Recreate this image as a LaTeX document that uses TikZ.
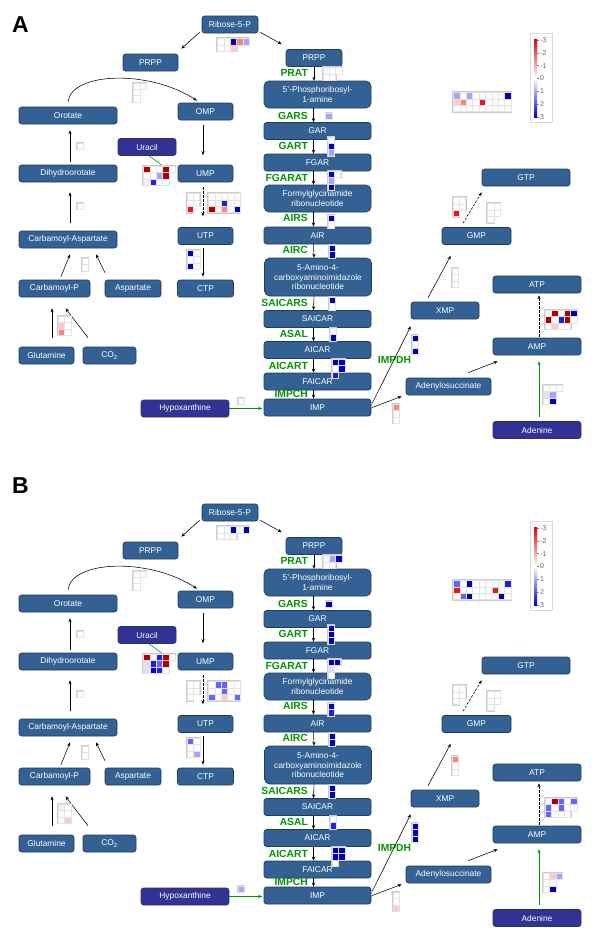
\documentclass[tikz,border=0pt]{standalone}
\usepackage{fontspec}
\setmainfont{Liberation Sans}
\usetikzlibrary{arrows.meta}

\definecolor{metblue}{RGB}{51,97,147}
\definecolor{metline}{RGB}{35,58,88}
\definecolor{extpurple}{RGB}{50,50,150}
\definecolor{enzgreen}{RGB}{0,150,0}
\definecolor{legred}{RGB}{225,0,0}
\definecolor{legblue}{RGB}{0,0,210}
%heat map colours
\definecolor{w}{RGB}{255,255,255}
\definecolor{dr}{RGB}{175,0,0}
\definecolor{rd}{RGB}{240,20,20}
\definecolor{sa}{RGB}{255,130,130}
\definecolor{pk}{RGB}{255,200,200}
\definecolor{vp}{RGB}{255,236,236}
\definecolor{db}{RGB}{0,0,180}
\definecolor{bl}{RGB}{30,30,240}
\definecolor{mb}{RGB}{100,100,255}
\definecolor{lb}{RGB}{165,165,255}
\definecolor{vb}{RGB}{225,225,255}

%heat map: x, y of top left corner, rows of colours
\newcommand\hm[3]{%
  \foreach \row [count=\ri] in {#3}{%
    \foreach \hc [count=\ci] in \row{%
      \fill[cellrim] ({#1+(\ci-1)*6.4-1},{#2+(\ri-1)*6.4-1}) rectangle +(8.4,8.4);}}%
  \foreach \row [count=\ri] in {#3}{%
    \foreach \hc [count=\ci] in \row{%
      \filldraw[cell, fill=\hc] ({#1+(\ci-1)*6.4},{#2+(\ri-1)*6.4}) rectangle +(6.4,6.4);}}%
}

\newcommand\pathway{%
%pyrimidines
  \node[met, minimum width=56pt] (r5p) at (230,24.5) {Ribose-5-P};
  \node[met, minimum width=55pt] (prppL) at (150.5,62.5) {PRPP};
  \node[met, minimum width=56pt] (prppR) at (314,58) {PRPP};
  \node[met, minimum width=98pt] (oro) at (68,115.5) {Orotate};
  \node[met, minimum width=55pt] (omp) at (205.5,111.5) {OMP};
  \node[ext, minimum width=58pt] (ura) at (147,147) {Uracil};
  \node[met, minimum width=98pt] (dho) at (68,173.5) {Dihydroorotate};
  \node[met, minimum width=55pt] (ump) at (205.5,173.5) {UMP};
  \node[met, minimum width=98pt] (casp) at (68,239.5) {Carbamoyl-Aspartate};
  \node[met, minimum width=55pt] (utp) at (205.5,236) {UTP};
  \node[met, minimum width=71pt] (cp) at (54.5,288.5) {Carbamoyl-P};
  \node[met, minimum width=56pt] (asp) at (133,288.5) {Aspartate};
  \node[met, minimum width=56pt] (ctp) at (205.5,288.5) {CTP};
  \node[met, minimum width=55pt] (gln) at (46.5,355.5) {Glutamine};
  \node[met, minimum width=53pt] (co2) at (109.5,355.5) {CO\textsubscript{2}};
  \node[ext, minimum width=88pt] (hyp) at (185,408.5) {Hypoxanthine};
%purine column
  \node[col, tall, minimum height=27pt] (pra) at (317.5,94.5) {5'-Phosphoribosyl-\\1-amine};
  \node[col] (gar) at (317.5,131) {GAR};
  \node[col] (fgar) at (317.5,162.5) {FGAR};
  \node[col, tall, minimum height=27pt] (fgam) at (317.5,198.5) {Formylglycinamide\\ribonucleotide};
  \node[col] (air) at (317.5,235.5) {AIR};
  \node[col, tall, minimum height=38pt] (cair) at (318,277) {5-Amino-4-\\carboxyaminoimidazole\\ribonucleotide};
  \node[col] (saicar) at (317.5,319) {SAICAR};
  \node[col] (aicar) at (317.5,350) {AICAR};
  \node[col] (faicar) at (317.5,381.5) {FAICAR};
  \node[col] (imp) at (317.5,407.5) {IMP};
%purines right
  \node[met, minimum width=68pt] (xmp) at (445,310.5) {XMP};
  \node[met, minimum width=69pt] (gmp) at (476.5,236) {GMP};
  \node[met, minimum width=88pt] (gtp) at (526,177.5) {GTP};
  \node[met, minimum width=88pt] (atp) at (537,284.5) {ATP};
  \node[met, minimum width=88pt] (amp) at (537,346.5) {AMP};
  \node[met, minimum width=85pt] (ados) at (448.5,386.5) {Adenylosuccinate};
  \node[ext, minimum width=88pt] (ade) at (537,430) {Adenine};
%enzymes
  \foreach \enz/\y in {PRAT/73,GARS/116,GART/146,FGARAT/178,AIRS/218,AIRC/250,SAICARS/303,ASAL/334,AICART/366,IMPCH/394}
    \node[enz] (\enz) at (308,\y) {\enz};
  \node[enz, anchor=center] (IMPDH) at (394.5,360) {IMPDH};
%arrows
  \draw[arr] (prppR.south) -- (prppR.south |- pra.north);
  \foreach \u/\v in {pra/gar,gar/fgar,fgar/fgam,fgam/air,air/cair,cair/saicar,saicar/aicar,aicar/faicar,faicar/imp}
    \draw[arr] ([xshift=-4pt]\u.south) -- ([xshift=-4pt]\v.north);
  \draw[arr] ([xshift=-2pt,yshift=1pt]r5p.south west) -- ([xshift=3pt,yshift=5pt]prppL.north east);
  \draw[arr] ([xshift=2pt,yshift=1pt]r5p.south east) -- ([xshift=-4pt,yshift=5pt]prppR.north west);
  \draw[arr] ([yshift=5pt]oro.north) .. controls +(4,-30) and +(-47,-31) .. ([xshift=-8.5pt,yshift=2pt]omp.north);
  \draw[arr] ([xshift=-2.5pt,yshift=-5pt]omp.south) -- ([xshift=-2.5pt,yshift=9.5pt]ump.north);
  \draw[arr, dashline] ([xshift=-2.5pt,yshift=-5pt]ump.south) -- ([xshift=-2.5pt,yshift=11pt]utp.north);
  \draw[arr] ([xshift=-2.5pt,yshift=-3pt]utp.south) -- ([xshift=-2.5pt,yshift=3pt]ctp.north);
  \draw[arr] ([xshift=2pt,yshift=3pt]dho.north) -- ([xshift=2pt,yshift=-6pt]oro.south);
  \draw[arr] ([xshift=2pt,yshift=8pt]casp.north) -- ([xshift=2pt,yshift=-10pt]dho.south);
  \draw[arr] ([xshift=6.5pt,yshift=3pt]cp.north) -- ([xshift=2pt,yshift=-6pt]casp.south);
  \draw[arr] ([xshift=-28pt,yshift=7pt]asp.north) -- ([xshift=28pt,yshift=-6pt]casp.south);
  \draw[arr] ([xshift=5.5pt,yshift=9pt]gln.north) -- ([xshift=-2.5pt,yshift=-11pt]cp.south);
  \draw[arr] ([xshift=-21.5pt,yshift=9pt]co2.north) -- ([xshift=11pt,yshift=-11pt]cp.south);
  \coordinate (uratip) at (163,166);
  \draw[gline] ([xshift=2pt]ura.south) -- (uratip);
  \draw[garr, shorten >=1.5pt] (hyp.east) -- (hyp.east -| imp.west);
  \draw[arr] ([xshift=1pt,yshift=4.5pt]imp.east) -- ([yshift=-7pt]xmp.south west);
  \draw[arr] ([xshift=1pt]imp.east) -- ([xshift=-4pt,yshift=-1pt]ados.south west);
  \draw[arr] ([xshift=-17pt,yshift=4pt]xmp.north) -- ([xshift=9pt,yshift=-11pt]gmp.south west);
  \draw[arr, dashline] ([xshift=-13.5pt,yshift=4pt]gmp.north) -- ([yshift=-6pt]gtp.south west);
  \draw[arr, dashline] ([xshift=2pt,yshift=1pt]amp.north) -- ([xshift=2pt,yshift=-2pt]atp.south);
  \draw[arr] ([xshift=19.5pt,yshift=5pt]ados.north) -- ([xshift=5pt,yshift=-6pt]amp.south west);
  \draw[garr] ([xshift=2pt,yshift=4pt]ade.north) -- ([xshift=2pt,yshift=-6pt]amp.south);
%legend
  \draw[gray!30, line width=1.3pt, fill=white] (530.5,33.5) rectangle (552.5,122.5);
  \shade[top color=legred, bottom color=legblue, middle color=white] (534,39) rectangle (537,117);
  \foreach \v [count=\i] in {-3,...,3}{
    \draw[gray, line width=.4pt] (537,{40+(\i-1)*12.8}) -- +(2,0);
    \node[legtxt] (lg\i) at (540,{40+(\i-1)*12.8}) {\v};}
}

\begin{document}
\begin{tikzpicture}[x=1pt, y=-1pt,
  met/.style={rectangle, rounded corners=2.5pt, fill=metblue, draw=metline, line width=.6pt,
    text=white, font=\fontsize{8.4}{9.5}\selectfont, align=center, minimum height=17pt, inner sep=0pt},
  ext/.style={met, fill=extpurple},
  col/.style={met, minimum width=107pt},
  tall/.style={rounded corners=5pt},
  enz/.style={anchor=east, inner sep=0pt, text=enzgreen, font=\fontsize{10.3}{10.3}\selectfont\bfseries},
  panel/.style={inner sep=0pt, font=\fontsize{23}{23}\selectfont\bfseries},
  legtxt/.style={anchor=west, inner sep=0pt, text=gray!80!black, font=\fontsize{7}{7}\selectfont},
  arr/.style={-{Stealth[length=4pt,width=3.2pt]}, line width=.55pt},
  garr/.style={arr, draw=enzgreen},
  gline/.style={draw=enzgreen, line width=.55pt},
  dashline/.style={dash pattern=on 2.5pt off 1.5pt},
  cellrim/.style={gray!40},
  cell/.style={draw=gray!22, line width=.4pt}]
  \fill[white] (0,0) rectangle (600,945);
  \useasboundingbox (0,0) rectangle (600,945);
  \node[panel] (labA) at (20.5,24.5) {A};
  \node[panel] (labB) at (20.5,486) {B};
%panel A
  \begin{scope}[name prefix=a-]
    \pathway
    \hm{217.3}{38.3}{{w,w,db,sa,lb},{w,w,pk}}
    \hm{133.3}{82.7}{{w,w},{w},{w}}
    \hm{143.3}{166}{{dr,w,w,dr,w},{w,w,lb,dr},{vp,bl,w,w}}
    \hm{186.7}{193.3}{{w,w},{w,w},{rd}}
    \hm{208.3}{193.3}{{w,w,w,w,w},{w,w,bl,w,w},{dr,vp,sa,w,db}}
    \hm{322.7}{67.3}{{w,w,w},{w,w}}
    \hm{325.5}{112.7}{{lb}}
    \hm{327.7}{136.7}{{w},{db},{lb}}
    \hm{327.7}{171}{{db,w},{lb},{db}}
    \hm{327.7}{215}{{db},{w}}
    \hm{329}{245}{{db},{db}}
    \hm{329}{297}{{db},{w}}
    \hm{330}{328}{{w},{db}}
    \hm{332}{359}{{db,db},{w,db},{bl}}
    \hm{412}{335}{{db},{w},{db}}
    \hm{393}{404}{{sa},{w},{w}}
    \hm{452}{268}{{w},{w},{w}}
    \hm{452.7}{197.3}{{w,w},{w,w},{rd}}
    \hm{487.3}{203.3}{{w,w},{w,w},{w}}
    \hm{545}{310}{{w,dr,w,dr,db},{dr,w,bl,dr,w},{w,pk,w,w}}
    \hm{543}{385}{{w,w,w},{vb,lb},{w,db}}
    \hm{453.3}{92.3}{{lb,w,lb,w,w,w,w,w,db},{pk,sa,w,w,rd,w,w,w,w},{w,w,w,w,w,w,w,w,w}}
    \hm{238}{398}{{w}}
    \hm{77}{143}{{w}}
    \hm{77}{203}{{w}}
    \hm{82}{258}{{w},{w}}
    \hm{58}{316}{{w,w},{pk,w},{sa,w}}
    \hm{187}{250}{{db,w},{w,w},{db,w}}
  \end{scope}
%panel B
  \begin{scope}[shift={(0,488)}, name prefix=b-]
    \pathway
    \hm{217.3}{38.3}{{w,w,db,w,db},{w,w,w}}
    \hm{133.3}{82.7}{{w,w},{w},{w}}
    \hm{143.3}{166}{{dr,w,bl,dr,w},{vb,bl,mb,dr},{vb,db,bl,w}}
    \hm{186.7}{193.3}{{w,w},{w,w},{w}}
    \hm{208.3}{193.3}{{w,mb,mb,w,w},{w,w,mb,w,w},{mb,w,pk,w,mb}}
    \hm{322.7}{67.3}{{w,lb,db},{w,w}}
    \hm{325.5}{112.7}{{db}}
    \hm{327.7}{136.7}{{db},{db},{db}}
    \hm{327.7}{171}{{db,db},{vb},{w}}
    \hm{327.7}{215}{{db},{bl}}
    \hm{329}{245}{{db},{db}}
    \hm{329}{297}{{db},{db}}
    \hm{330}{328}{{w},{bl}}
    \hm{332}{359}{{db,db},{db,db},{w}}
    \hm{412}{335}{{db},{db},{db}}
    \hm{393}{404}{{w},{w},{pk}}
    \hm{452}{268}{{sa},{w},{w}}
    \hm{452.7}{197.3}{{w,w},{w,w},{w}}
    \hm{487.3}{203.3}{{w,w},{w,w},{w}}
    \hm{545}{310}{{w,dr,mb,w,mb},{mb,w,mb,w,w},{mb,w,w,w}}
    \hm{543}{385}{{w,pk,lb},{w,w},{w,db}}
    \hm{453.3}{92.3}{{mb,w,db,w,w,w,w,w,bl},{rd,w,w,w,w,w,rd,w,w},{w,mb,db,w,w,w,w,db,w}}
    \hm{238}{398}{{lb}}
    \hm{77}{143}{{w}}
    \hm{77}{203}{{w}}
    \hm{82}{258}{{w},{w}}
    \hm{58}{316}{{vp,w},{w,w},{w,pk}}
    \hm{187}{250}{{mb,w},{w,w},{w,lb}}
  \end{scope}
\end{tikzpicture}
\end{document}
